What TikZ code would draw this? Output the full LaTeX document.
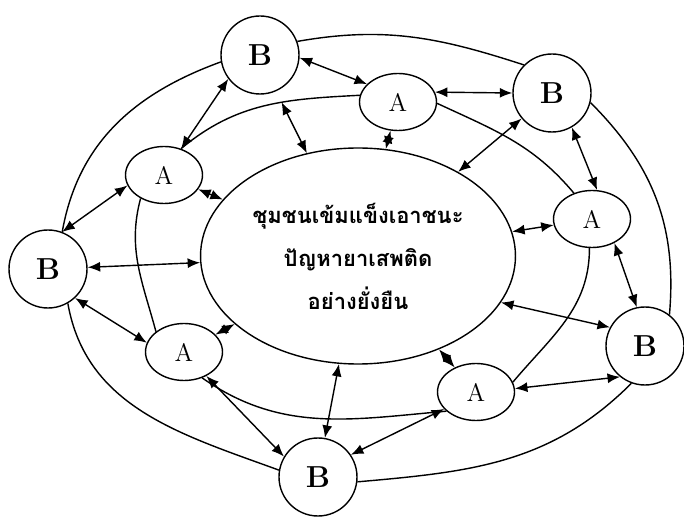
\documentclass[tikz,border=0pt]{standalone}
\usepackage{fontspec}
\usepackage{tikz}
\usetikzlibrary{shapes.geometric,arrows.meta}
\newfontfamily\thaifont[Script=Thai]{Loma}

\tikzset{
  nodeB/.style={circle, draw, line width=0.8pt, minimum size=1.56cm, inner sep=0pt, font=\LARGE\bfseries},
  nodeA/.style={ellipse, draw, line width=0.8pt, minimum width=1.54cm, minimum height=1.14cm, inner sep=0pt, font=\Large},
  core/.style={ellipse, draw, line width=0.8pt, minimum width=6.2cm, minimum height=4.32cm, align=center,
    font=\thaifont\bfseries\fontsize{12.5pt}{24.5pt}\selectfont},
  ring/.style={line width=0.8pt},
  link/.style={<->, line width=0.8pt, >={Latex[length=2.5mm,width=2mm]}},
}

\begin{document}
\begin{tikzpicture}
    \useasboundingbox (0,0) rectangle (13.68,10.36);

    % Vertices
    \node[core] (C) at (7.16,5.24) {ชุมชนเข้มแข็งเอาชนะ\\ปัญหายาเสพติด\\อย่างยั่งยืน};

    \node[nodeB] (Bt)  at (5.2,9.26)  {B};
    \node[nodeB] (Btr) at (11.04,8.5) {B};
    \node[nodeB] (Br)  at (12.9,3.44) {B};
    \node[nodeB] (Bb)  at (6.36,0.82) {B};
    \node[nodeB] (Bl)  at (0.96,4.98) {B};

    \node[nodeA] (At)  at (7.96,8.32) {A};
    \node[nodeA] (Al)  at (3.28,6.86) {A};
    \node[nodeA] (Ar)  at (11.84,5.98) {A};
    \node[nodeA] (Alr) at (9.52,2.52) {A};
    \node[nodeA] (All) at (3.68,3.32) {A};

    % Outer ring
    \draw[ring] (Btr.135) to[out=162,in=10] (Bt.20);
    \draw[ring] (Bt.190) to[out=200,in=80] (Bl.69);
    \draw[ring] (Bl.-60) to[out=-80,in=160] (Bb.170);
    \draw[ring] (Bb.-7) to[out=5,in=225] (Br.250);
    \draw[ring] (Br.52) to[out=85,in=-45] (Btr.-14);

    % Middle ring
    \draw[ring] (At.170) to[out=183,in=40] coordinate[pos=0.4] (m1) (Al.57);
    \draw[ring] (Al.225) to[out=255,in=105] (All.144);
    \draw[ring] (All.-55) to[out=-35,in=185] (Alr.213);
    \draw[ring] (Alr.15) to[out=50,in=-90] (Ar.265);
    \draw[ring] (Ar.125) to[out=130,in=-25] (At.-2);

    % Edges
    \draw[link] (Bt.-4) -- (At.150);
    \draw[link] (Bt.217) -- (Al.57);
    \draw[link] (m1) -- (C);
    \draw[link] (Al.196) -- (Bl.69);
    \draw[link] (Al) -- (C);
    \draw[link] (At) -- (C);
    \draw[link] (At.15) -- (Btr.west);
    \draw[link] (Btr) -- (C);
    \draw[link] (Btr.-60) -- (Ar.80);
    \draw[link] (Ar) -- (C);
    \draw[link] (Ar.-47) -- (Br.102);
    \draw[link] (C.-18) -- (Br.152);
    \draw[link] (Alr.5) -- (Br.231);
    \draw[link] (C) -- (Alr);
    \draw[link] (Alr.208) -- (Bb.34);
    \draw[link] (C.-100) -- (Bb.80);
    \draw[link] (All.-47) -- (Bb.149);
    \draw[link] (All) -- (C);
    \draw[link] (Bl.-47) -- (All.166);
    \draw[link] (Bl) -- (C);
\end{tikzpicture}
\end{document}
